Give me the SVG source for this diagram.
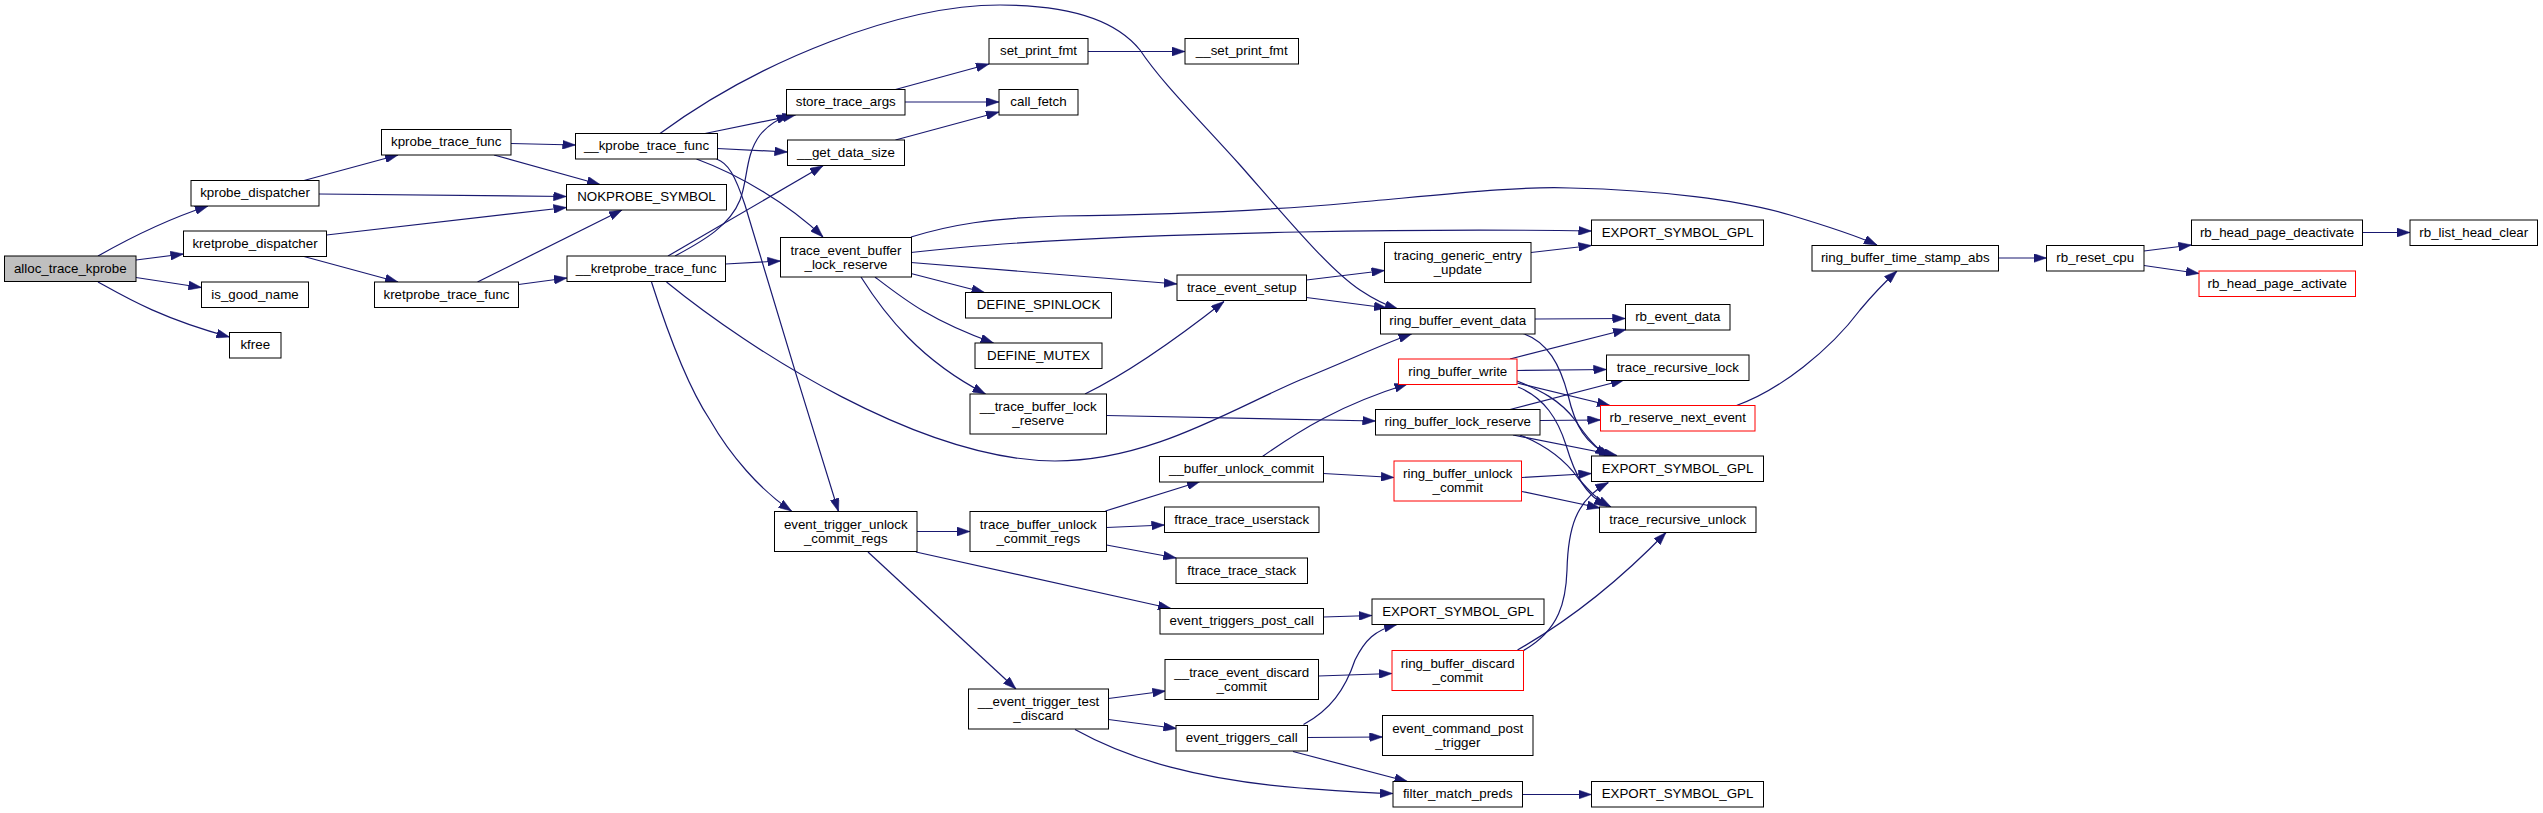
<svg xmlns="http://www.w3.org/2000/svg" width="2543" height="813" viewBox="0 0 2543 813">
<style>
.n rect{fill:#fff;stroke:#000;stroke-width:1}
.n.root rect{fill:#bfbfbf}
.n.red rect{stroke:#ff0000}
.n text{font-family:"Liberation Sans",Arial,Helvetica,sans-serif;font-size:13.33px;fill:#000;text-anchor:middle}
#edges path{fill:none;stroke:#191970;stroke-width:1.2;marker-end:url(#ah)}
</style>
<defs>
<marker id="ah" markerUnits="userSpaceOnUse" viewBox="0 0 13 9" markerWidth="13" markerHeight="9" refX="13" refY="4.5" orient="auto">
<path d="M0,0 L13,4.5 L0,9 z" fill="#191970" stroke="#191970" stroke-width="0.5"/>
</marker>
</defs>
<rect x="0" y="0" width="2543" height="813" fill="#fff"/>
<g id="edges">
<path d="M98,256 C128,239 165,220 208,206"/>
<path d="M136,260 L183.5,254"/>
<path d="M136,277.5 L201.5,287.5"/>
<path d="M98,282 C125,297 160,318 229.5,337"/>
<path d="M304,180.5 L398,155"/>
<path d="M319,194 L566.5,196.5"/>
<path d="M326.5,235 L566.5,207.5"/>
<path d="M304,256.5 L398,282"/>
<path d="M511,143.5 L575.5,145"/>
<path d="M494,155 L600,184.5"/>
<path d="M477.5,282 L622,210"/>
<path d="M518.5,284.5 L567,278"/>
<path d="M660,133.5 C760,60 900,5 1000,5 C1080,5 1120,25 1140,50 C1160,80 1190,110 1240,165 C1290,222 1330,270 1360,290 C1375,300 1385,305 1398,309"/>
<path d="M705,133.5 L795.5,115"/>
<path d="M717.5,148.5 L787.5,152"/>
<path d="M696.5,159 C740,175 790,205 823,237"/>
<path d="M716.5,159 C728,163 735,175 745,205 C770,290 810,420 838.5,511.5"/>
<path d="M675,256 C705,240 730,225 740,200 C748,180 745,155 760,135 C768,125 778,119 789.5,115"/>
<path d="M668,256 L823,165.7"/>
<path d="M725.5,264 L780.5,261"/>
<path d="M651.5,282 C670,340 690,390 710,420 C730,455 760,490 791.5,511"/>
<path d="M666.5,282 C750,350 920,460 1055,461 C1150,461 1230,410 1300,380 C1350,360 1380,345 1411.5,334"/>
<path d="M911,237 C950,225 990,218 1060,216 C1150,215 1250,212 1350,203 C1450,194 1520,186 1570,188 C1660,190 1740,200 1790,215 C1830,227 1855,235 1877,245"/>
<path d="M911,252.5 C1000,242 1150,235 1300,232 C1450,229 1530,230 1591.5,231"/>
<path d="M911,262.5 L1177,284"/>
<path d="M911,273.5 L984.5,292.5"/>
<path d="M875,277 C905,300 930,320 993.5,343"/>
<path d="M861,277 C885,315 920,360 985.5,394"/>
<path d="M1306.5,280 L1384.5,270.5"/>
<path d="M1306.5,297.5 L1387,308"/>
<path d="M1085,394 C1130,372 1175,340 1224,301.5"/>
<path d="M1106.5,415.5 L1375.5,421"/>
<path d="M1531,252.5 L1591.5,245.5"/>
<path d="M1535,319 L1625.5,318.5"/>
<path d="M1523,333.5 C1548,342 1560,365 1568,395 C1575,425 1585,445 1612,456"/>
<path d="M1510,359 L1626,329.5"/>
<path d="M1517,370.5 L1606.5,369.5"/>
<path d="M1517,383 L1610,405.5"/>
<path d="M1517,381 C1540,390 1560,400 1575,420 C1585,435 1595,448 1608,456"/>
<path d="M1518,387 C1545,398 1558,420 1566,445 C1575,475 1585,495 1607,506"/>
<path d="M1510,409.5 L1624,380"/>
<path d="M1540,420.5 L1600.5,420"/>
<path d="M1513,435 L1617,455.5"/>
<path d="M1520,435 C1545,445 1565,460 1578,478 C1590,492 1598,500 1611,507"/>
<path d="M1522,477.5 L1591.5,473.5"/>
<path d="M1522,491.5 L1600,508"/>
<path d="M1523.5,650.5 C1560,630 1566,600 1567,570 C1568,530 1575,500 1608.5,482.5"/>
<path d="M1517.5,650 C1570,620 1620,580 1666,532.5"/>
<path d="M1262.5,456.5 C1300,430 1340,405 1407.5,384"/>
<path d="M1323.5,473.5 L1394,477.5"/>
<path d="M1105.5,511 L1200,481.5"/>
<path d="M1106.5,527.5 L1164.5,525"/>
<path d="M1106.5,545 L1176.3,558"/>
<path d="M917,531.5 L970,531.5"/>
<path d="M916,552 L1171,608.5"/>
<path d="M868,552 L1016,689"/>
<path d="M1323.5,617 L1372,615.5"/>
<path d="M1108.5,698.5 L1165.5,691"/>
<path d="M1108.5,719.5 L1176.5,728.5"/>
<path d="M1075,729.5 C1130,760 1200,780 1300,788 C1340,791 1365,793 1393,793.5"/>
<path d="M1318.5,676 L1392,673.5"/>
<path d="M1303.5,724.5 C1330,710 1345,690 1355,660 C1365,640 1375,630 1397,624.5"/>
<path d="M1307.5,737.5 L1382.5,737"/>
<path d="M1293,751.5 L1407.5,781.5"/>
<path d="M1522.5,794.5 L1591.5,794.5"/>
<path d="M1736.5,405.5 C1780,390 1830,350 1860,310 C1875,292 1885,282 1897,271"/>
<path d="M1998.5,258 L2046.5,258"/>
<path d="M2144,251 L2191.5,245"/>
<path d="M2144,265.5 L2199,273.5"/>
<path d="M2362.5,232.5 L2410,232.5"/>
<path d="M895.5,89.5 L989,64"/>
<path d="M905,102 L999,102"/>
<path d="M895.5,140 L999,112"/>
<path d="M1088,51.5 L1185,51.5"/>
</g>
<g id="n_alloc_trace_kprobe" class="n root"><rect x="4.5" y="256" width="131.5" height="25.5"/><text x="70.25" y="272.75">alloc_trace_kprobe</text></g>
<g id="n_kprobe_dispatcher" class="n"><rect x="191" y="180.5" width="128" height="25.5"/><text x="255" y="197.25">kprobe_dispatcher</text></g>
<g id="n_kretprobe_dispatcher" class="n"><rect x="183.5" y="231" width="143" height="25.5"/><text x="255" y="247.75">kretprobe_dispatcher</text></g>
<g id="n_is_good_name" class="n"><rect x="201.5" y="282" width="107" height="25.5"/><text x="255" y="298.75">is_good_name</text></g>
<g id="n_kfree" class="n"><rect x="229.5" y="332.5" width="51.5" height="25.5"/><text x="255.25" y="349.25">kfree</text></g>
<g id="n_kprobe_trace_func" class="n"><rect x="381.5" y="129.5" width="129.5" height="25.5"/><text x="446.25" y="146.25">kprobe_trace_func</text></g>
<g id="n_kretprobe_trace_func" class="n"><rect x="374.5" y="282" width="144" height="25.5"/><text x="446.5" y="298.75">kretprobe_trace_func</text></g>
<g id="n_NOKPROBE_SYMBOL" class="n"><rect x="566.5" y="184.5" width="160" height="25.5"/><text x="646.5" y="201.25">NOKPROBE_SYMBOL</text></g>
<g id="n___kprobe_trace_func" class="n"><rect x="575.5" y="133.5" width="142" height="25.5"/><text x="646.5" y="150.25">__kprobe_trace_func</text></g>
<g id="n___kretprobe_trace_func" class="n"><rect x="567" y="256" width="158.5" height="25.5"/><text x="646.25" y="272.75">__kretprobe_trace_func</text></g>
<g id="n_store_trace_args" class="n"><rect x="786.5" y="89.5" width="118.5" height="25.5"/><text x="845.75" y="106.25">store_trace_args</text></g>
<g id="n___get_data_size" class="n"><rect x="787.5" y="140" width="117" height="25.5"/><text x="846" y="156.75">__get_data_size</text></g>
<g id="n_trace_event_buffer_lock_reserve" class="n"><rect x="780.5" y="237.5" width="131" height="39.5"/><text x="846" y="254.5">trace_event_buffer</text><text x="846" y="268.5">_lock_reserve</text></g>
<g id="n_event_trigger_unlock_commit_regs" class="n"><rect x="774.5" y="511.5" width="142.5" height="40"/><text x="845.75" y="528.5">event_trigger_unlock</text><text x="845.75" y="542.5">_commit_regs</text></g>
<g id="n_set_print_fmt" class="n"><rect x="989" y="38.5" width="99" height="25.5"/><text x="1038.5" y="55.25">set_print_fmt</text></g>
<g id="n_call_fetch" class="n"><rect x="999" y="89.5" width="79" height="25.5"/><text x="1038.5" y="106.25">call_fetch</text></g>
<g id="n_DEFINE_SPINLOCK" class="n"><rect x="965.5" y="292.5" width="146" height="25.5"/><text x="1038.5" y="309.25">DEFINE_SPINLOCK</text></g>
<g id="n_DEFINE_MUTEX" class="n"><rect x="975" y="343" width="127" height="25.5"/><text x="1038.5" y="359.75">DEFINE_MUTEX</text></g>
<g id="n___trace_buffer_lock_reserve" class="n"><rect x="970" y="394" width="136.5" height="40"/><text x="1038.25" y="411">__trace_buffer_lock</text><text x="1038.25" y="425">_reserve</text></g>
<g id="n_trace_buffer_unlock_commit_regs" class="n"><rect x="970" y="511.5" width="136.5" height="40"/><text x="1038.25" y="528.5">trace_buffer_unlock</text><text x="1038.25" y="542.5">_commit_regs</text></g>
<g id="n___event_trigger_test_discard" class="n"><rect x="968.5" y="689" width="140" height="40"/><text x="1038.5" y="706">__event_trigger_test</text><text x="1038.5" y="720">_discard</text></g>
<g id="n___set_print_fmt" class="n"><rect x="1185" y="38.5" width="113.5" height="25.5"/><text x="1241.75" y="55.25">__set_print_fmt</text></g>
<g id="n_trace_event_setup" class="n"><rect x="1177" y="275" width="129.5" height="25.5"/><text x="1241.75" y="291.75">trace_event_setup</text></g>
<g id="n___buffer_unlock_commit" class="n"><rect x="1159.5" y="456.5" width="164" height="25.5"/><text x="1241.5" y="473.25">__buffer_unlock_commit</text></g>
<g id="n_ftrace_trace_userstack" class="n"><rect x="1164.5" y="507" width="154.5" height="25.5"/><text x="1241.75" y="523.75">ftrace_trace_userstack</text></g>
<g id="n_ftrace_trace_stack" class="n"><rect x="1176" y="558" width="131.5" height="25.5"/><text x="1241.75" y="574.75">ftrace_trace_stack</text></g>
<g id="n_event_triggers_post_call" class="n"><rect x="1160" y="608.5" width="163.5" height="25.5"/><text x="1241.75" y="625.25">event_triggers_post_call</text></g>
<g id="n___trace_event_discard_commit" class="n"><rect x="1165" y="659.5" width="153.5" height="40"/><text x="1241.75" y="676.5">__trace_event_discard</text><text x="1241.75" y="690.5">_commit</text></g>
<g id="n_event_triggers_call" class="n"><rect x="1176" y="725.5" width="131.5" height="25.5"/><text x="1241.75" y="742.25">event_triggers_call</text></g>
<g id="n_tracing_generic_entry_update" class="n"><rect x="1384.5" y="242.5" width="146.5" height="40"/><text x="1457.75" y="259.5">tracing_generic_entry</text><text x="1457.75" y="273.5">_update</text></g>
<g id="n_ring_buffer_event_data" class="n"><rect x="1380.5" y="308.5" width="154.5" height="25.5"/><text x="1457.75" y="325.25">ring_buffer_event_data</text></g>
<g id="n_ring_buffer_write" class="n red"><rect x="1398.5" y="359" width="118.5" height="25.5"/><text x="1457.75" y="375.75">ring_buffer_write</text></g>
<g id="n_ring_buffer_lock_reserve" class="n"><rect x="1375.5" y="409.5" width="164.5" height="25.5"/><text x="1457.75" y="426.25">ring_buffer_lock_reserve</text></g>
<g id="n_ring_buffer_unlock_commit" class="n red"><rect x="1394" y="461" width="127.5" height="40"/><text x="1457.75" y="478">ring_buffer_unlock</text><text x="1457.75" y="492">_commit</text></g>
<g id="n_EXPORT_SYMBOL_GPL_3" class="n"><rect x="1372" y="599" width="172" height="25.5"/><text x="1458" y="615.75">EXPORT_SYMBOL_GPL</text></g>
<g id="n_ring_buffer_discard_commit" class="n red"><rect x="1392" y="650.5" width="131.5" height="40"/><text x="1457.75" y="667.5">ring_buffer_discard</text><text x="1457.75" y="681.5">_commit</text></g>
<g id="n_event_command_post_trigger" class="n"><rect x="1382.5" y="715.5" width="150.5" height="40"/><text x="1457.75" y="732.5">event_command_post</text><text x="1457.75" y="746.5">_trigger</text></g>
<g id="n_filter_match_preds" class="n"><rect x="1393" y="781.5" width="129.5" height="25.5"/><text x="1457.75" y="798.25">filter_match_preds</text></g>
<g id="n_EXPORT_SYMBOL_GPL_1" class="n"><rect x="1591.5" y="220" width="172" height="25.5"/><text x="1677.5" y="236.75">EXPORT_SYMBOL_GPL</text></g>
<g id="n_rb_event_data" class="n"><rect x="1625.5" y="304.5" width="104.5" height="25.5"/><text x="1677.75" y="321.25">rb_event_data</text></g>
<g id="n_trace_recursive_lock" class="n"><rect x="1606.5" y="355" width="142.5" height="25.5"/><text x="1677.75" y="371.75">trace_recursive_lock</text></g>
<g id="n_rb_reserve_next_event" class="n red"><rect x="1600.5" y="405.5" width="154.5" height="25.5"/><text x="1677.75" y="422.25">rb_reserve_next_event</text></g>
<g id="n_EXPORT_SYMBOL_GPL_2" class="n"><rect x="1591.5" y="456" width="172" height="25.5"/><text x="1677.5" y="472.75">EXPORT_SYMBOL_GPL</text></g>
<g id="n_trace_recursive_unlock" class="n"><rect x="1599.5" y="507" width="156.5" height="25.5"/><text x="1677.75" y="523.75">trace_recursive_unlock</text></g>
<g id="n_EXPORT_SYMBOL_GPL_4" class="n"><rect x="1591.5" y="781.5" width="172" height="25.5"/><text x="1677.5" y="798.25">EXPORT_SYMBOL_GPL</text></g>
<g id="n_ring_buffer_time_stamp_abs" class="n"><rect x="1812" y="245.5" width="186.5" height="25.5"/><text x="1905.25" y="262.25">ring_buffer_time_stamp_abs</text></g>
<g id="n_rb_reset_cpu" class="n"><rect x="2046.5" y="245.5" width="97.5" height="25.5"/><text x="2095.25" y="262.25">rb_reset_cpu</text></g>
<g id="n_rb_head_page_deactivate" class="n"><rect x="2191.5" y="220" width="171" height="25.5"/><text x="2277" y="236.75">rb_head_page_deactivate</text></g>
<g id="n_rb_head_page_activate" class="n red"><rect x="2199" y="271" width="156.5" height="25.5"/><text x="2277.25" y="287.75">rb_head_page_activate</text></g>
<g id="n_rb_list_head_clear" class="n"><rect x="2410" y="220" width="127.5" height="25.5"/><text x="2473.75" y="236.75">rb_list_head_clear</text></g>
</svg>
